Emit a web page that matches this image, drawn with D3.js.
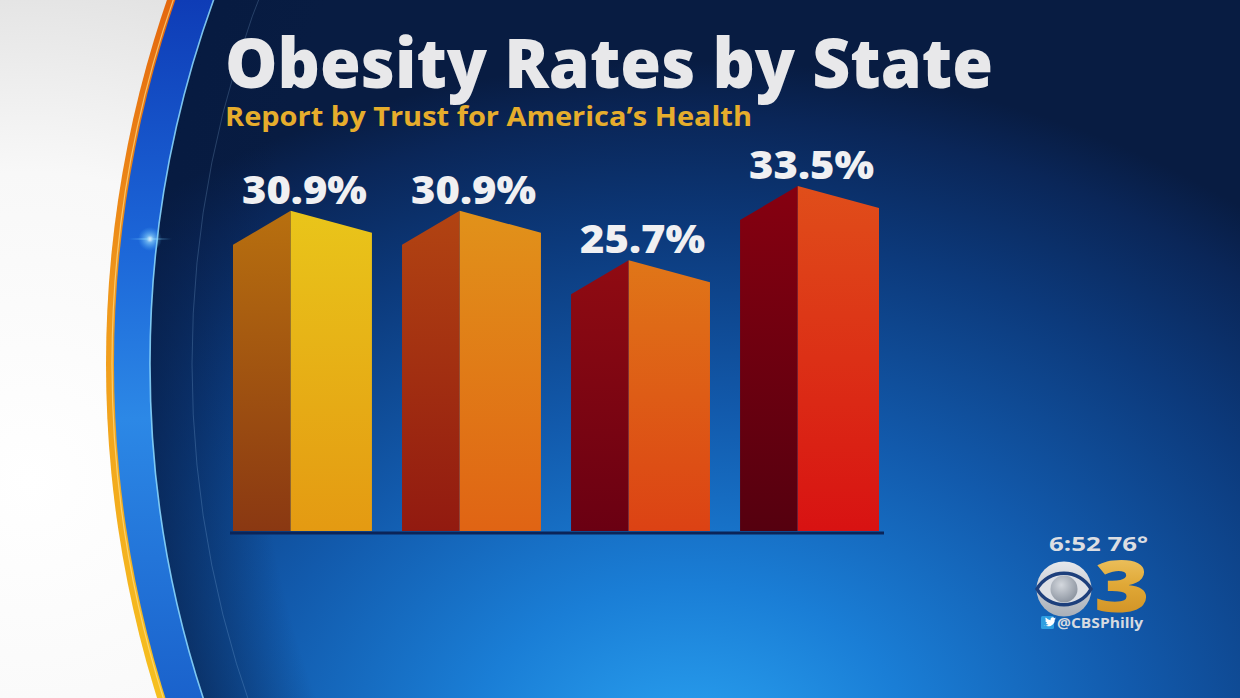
<!DOCTYPE html>
<html><head><meta charset="utf-8">
<script src="https://cdn.jsdelivr.net/npm/d3@7"></script>
<style>html,body{margin:0;padding:0;overflow:hidden;background:#fff}svg{display:block}</style>
</head><body><svg id="c" width="1240" height="698"></svg>
<script>
// ---- data ----
const categories = ["Bar 1", "Bar 2", "Bar 3", "Bar 4"];
const values = [30.9, 30.9, 25.7, 33.5];
const valueLabels = ["30.9%", "30.9%", "25.7%", "33.5%"];
const titleText = "Obesity Rates by State";
const subtitleText = "Report by Trust for America’s Health";
const clockText = "6:52 76°";
const channelText = "3";
const handleText = "@CBSPhilly";

// ---- styles ----
const palette = [
  {sideTop: "#b8700f", sideBot: "#8a3812", frontTop: "#e9c51a", frontBot: "#e49a12"},
  {sideTop: "#b24412", sideBot: "#921a10", frontTop: "#e1921a", frontBot: "#e06414"},
  {sideTop: "#900b12", sideBot: "#6a0012", frontTop: "#e07618", frontBot: "#dc4214"},
  {sideTop: "#860010", sideBot: "#55000f", frontTop: "#e04e1a", frontBot: "#d81212"}
];
const FONT = "'Open Sans', 'DejaVu Sans', sans-serif";

const svg = d3.select("#c");
const W = 1240, H = 698;
const defs = svg.append("defs");

// background gradients
const bgL = defs.append("radialGradient").attr("id", "bgL").attr("gradientUnits", "userSpaceOnUse")
  .attr("cx", 30).attr("cy", 480).attr("r", 560);
bgL.append("stop").attr("offset", 0).attr("stop-color", "#ffffff");
bgL.append("stop").attr("offset", 0.55).attr("stop-color", "#f8f8f8");
bgL.append("stop").attr("offset", 1).attr("stop-color", "#dcdcdc");

const orG = defs.append("linearGradient").attr("id", "orG")
  .attr("gradientUnits", "userSpaceOnUse").attr("y1", 0).attr("y2", H).attr("x1", 0).attr("x2", 0);
orG.append("stop").attr("offset", 0).attr("stop-color", "#e4680e");
orG.append("stop").attr("offset", 0.45).attr("stop-color", "#f09a1c");
orG.append("stop").attr("offset", 1).attr("stop-color", "#f6c020");

const blG = defs.append("linearGradient").attr("id", "blG").attr("gradientUnits", "userSpaceOnUse")
  .attr("x1", 0).attr("y1", 0).attr("x2", 0).attr("y2", H);
blG.append("stop").attr("offset", 0).attr("stop-color", "#0e3cb6");
blG.append("stop").attr("offset", 0.35).attr("stop-color", "#1c66d8");
blG.append("stop").attr("offset", 0.6).attr("stop-color", "#2c88e6");
blG.append("stop").attr("offset", 1).attr("stop-color", "#1a62cc");

const inG = defs.append("radialGradient").attr("id", "inG").attr("gradientUnits", "userSpaceOnUse")
  .attr("cx", 0).attr("cy", 0).attr("r", 1)
  .attr("gradientTransform", "translate(690,760) scale(900,700)");
inG.append("stop").attr("offset", 0).attr("stop-color", "#2ba4f2");
inG.append("stop").attr("offset", 0.25).attr("stop-color", "#1a7ed6");
inG.append("stop").attr("offset", 0.5).attr("stop-color", "#125aac");
inG.append("stop").attr("offset", 0.75).attr("stop-color", "#0c3a7c");
inG.append("stop").attr("offset", 0.92).attr("stop-color", "#0a2658");
inG.append("stop").attr("offset", 1).attr("stop-color", "#081c42");

const flare = defs.append("radialGradient").attr("id", "flare");
flare.append("stop").attr("offset", 0).attr("stop-color", "#ffffff").attr("stop-opacity", 1);
flare.append("stop").attr("offset", 0.3).attr("stop-color", "#9fe4ff").attr("stop-opacity", 0.6);
flare.append("stop").attr("offset", 1).attr("stop-color", "#4fb8ff").attr("stop-opacity", 0);

const edgeShade = defs.append("radialGradient").attr("id", "edgeShade").attr("gradientUnits", "userSpaceOnUse")
  .attr("cx", 1224).attr("cy", 364).attr("r", 1074);
edgeShade.append("stop").attr("offset", 0.9).attr("stop-color", "#061a40").attr("stop-opacity", 0);
edgeShade.append("stop").attr("offset", 1).attr("stop-color", "#061a40").attr("stop-opacity", 0.55);

// ---- background ----
svg.append("rect").attr("width", W).attr("height", H).attr("fill", "url(#bgL)");
const CX = 1224, CY = 364, R = 1118;
svg.append("circle").attr("cx", CX).attr("cy", CY).attr("r", R).attr("fill", "url(#orG)");
svg.append("circle").attr("cx", CX).attr("cy", CY).attr("r", R - 6).attr("fill", "none")
  .attr("stroke", "#ffe08a").attr("stroke-width", 1.2).attr("opacity", 0.7);
svg.append("circle").attr("cx", CX).attr("cy", CY).attr("r", R - 8).attr("fill", "url(#blG)");
svg.append("circle").attr("cx", CX).attr("cy", CY).attr("r", R - 44).attr("fill", "url(#inG)");
svg.append("circle").attr("cx", CX).attr("cy", CY).attr("r", R - 44).attr("fill", "url(#edgeShade)");
svg.append("circle").attr("cx", CX).attr("cy", CY).attr("r", R - 44).attr("fill", "none")
  .attr("stroke", "#8fdcff").attr("stroke-width", 1.6).attr("opacity", 0.85);
svg.append("circle").attr("cx", CX).attr("cy", CY).attr("r", R - 86).attr("fill", "none")
  .attr("stroke", "#9cc8f0").attr("stroke-width", 1).attr("opacity", 0.22);
// lens flare
svg.append("ellipse").attr("cx", 150).attr("cy", 239).attr("rx", 12).attr("ry", 12).attr("fill", "url(#flare)");
svg.append("ellipse").attr("cx", 150).attr("cy", 239).attr("rx", 24).attr("ry", 1.3).attr("fill", "url(#flare)").attr("opacity", 0.7);

// ---- title ----
svg.append("text").attr("x", 225).attr("y", 88).text(titleText)
  .attr("font-family", FONT).attr("font-weight", 800).attr("font-size", 69)
  .attr("fill", "#e8e8ea").attr("textLength", 768).attr("lengthAdjust", "spacingAndGlyphs");
svg.append("text").attr("x", 225).attr("y", 126).text(subtitleText)
  .attr("font-family", FONT).attr("font-weight", 700).attr("font-size", 26)
  .attr("fill", "#e6ad2c").attr("textLength", 527).attr("lengthAdjust", "spacingAndGlyphs");

// ---- chart ----
const x = d3.scaleBand().domain(categories).range([233, 879]).paddingInner(0.178).paddingOuter(0);
const y = d3.scaleLinear().domain([-2.7, 33.5]).range([531, 186]);
const ridgeFrac = 0.415, leftDrop = 34, rightDrop = 22;
const base = 531;

const rows = categories.map((c, i) => ({c, v: values[i], label: valueLabels[i], i}));

rows.forEach(d => {
  const p = palette[d.i];
  const gs = defs.append("linearGradient").attr("id", "side" + d.i).attr("gradientUnits", "userSpaceOnUse")
    .attr("x1", 0).attr("x2", 0).attr("y1", y(d.v)).attr("y2", base);
  gs.append("stop").attr("offset", 0).attr("stop-color", p.sideTop);
  gs.append("stop").attr("offset", 1).attr("stop-color", p.sideBot);
  const gf = defs.append("linearGradient").attr("id", "front" + d.i).attr("gradientUnits", "userSpaceOnUse")
    .attr("x1", 0).attr("x2", 0).attr("y1", y(d.v)).attr("y2", base);
  gf.append("stop").attr("offset", 0).attr("stop-color", p.frontTop);
  gf.append("stop").attr("offset", 1).attr("stop-color", p.frontBot);
});

const bars = svg.append("g").selectAll("g").data(rows).join("g");
bars.append("path").attr("fill", d => `url(#side${d.i})`)
  .attr("d", d => {
    const x0 = x(d.c), xr = x0 + x.bandwidth() * ridgeFrac, t = y(d.v);
    return `M${x0},${base}L${x0},${t + leftDrop}L${xr},${t}L${xr},${base}Z`;
  });
bars.append("path").attr("fill", d => `url(#front${d.i})`)
  .attr("d", d => {
    const x0 = x(d.c), xr = x0 + x.bandwidth() * ridgeFrac, x1 = x0 + x.bandwidth(), t = y(d.v);
    return `M${xr},${t}L${x1},${t + rightDrop}L${x1},${base}L${xr},${base}Z`;
  });
bars.append("text").text(d => d.label)
  .attr("x", d => x(d.c) + x.bandwidth() / 2 + 2).attr("y", d => y(d.v) - 7)
  .attr("text-anchor", "middle").attr("font-family", FONT).attr("font-weight", 800)
  .attr("font-size", 38).attr("fill", "#f0f0f2")
  .attr("textLength", 125).attr("lengthAdjust", "spacingAndGlyphs");

svg.append("line").attr("x1", 230).attr("x2", 884).attr("y1", base + 2).attr("y2", base + 2)
  .attr("stroke", "#0b2458").attr("stroke-width", 3);

// ---- logo ----
const silver = defs.append("linearGradient").attr("id", "silver").attr("x1", 0).attr("y1", 0).attr("x2", 0).attr("y2", 1);
silver.append("stop").attr("offset", 0).attr("stop-color", "#e6e8ec");
silver.append("stop").attr("offset", 1).attr("stop-color", "#a9afb8");
const pupil = defs.append("radialGradient").attr("id", "pupil").attr("cx", 0.4).attr("cy", 0.35).attr("r", 0.7);
pupil.append("stop").attr("offset", 0).attr("stop-color", "#d4d8de");
pupil.append("stop").attr("offset", 1).attr("stop-color", "#8a929e");
const gold = defs.append("linearGradient").attr("id", "gold").attr("x1", 0).attr("y1", 0).attr("x2", 0).attr("y2", 1);
gold.append("stop").attr("offset", 0).attr("stop-color", "#f4d27a");
gold.append("stop").attr("offset", 0.5).attr("stop-color", "#e0a836");
gold.append("stop").attr("offset", 1).attr("stop-color", "#c8861c");

svg.append("text").attr("x", 1049).attr("y", 551).text(clockText)
  .attr("font-family", FONT).attr("font-weight", 700).attr("font-size", 20)
  .attr("fill", "#dcdee2").attr("textLength", 99).attr("lengthAdjust", "spacingAndGlyphs");
const ex = 1064, ey = 589;
svg.append("circle").attr("cx", ex).attr("cy", ey).attr("r", 27.5).attr("fill", "url(#silver)");
svg.append("path").attr("d", `M${ex - 27},${ey} A31,31 0 0 1 ${ex + 27},${ey} A31,31 0 0 1 ${ex - 27},${ey} Z`)
  .attr("fill", "#dde0e6").attr("stroke", "#1d3f7c").attr("stroke-width", 3.5);
svg.append("circle").attr("cx", ex).attr("cy", ey).attr("r", 13.5).attr("fill", "url(#pupil)");
svg.append("text").attr("x", 1094).attr("y", 612).text(channelText)
  .attr("font-family", FONT).attr("font-weight", 800).attr("font-size", 70)
  .attr("fill", "url(#gold)").attr("textLength", 56).attr("lengthAdjust", "spacingAndGlyphs");
svg.append("rect").attr("x", 1041).attr("y", 616).attr("width", 13).attr("height", 13).attr("rx", 1.5).attr("fill", "#2e9fe2");
svg.append("path").attr("d", "M1043.5,625.5 q3,1 5,-1 q-2,0 -2.5,-1.5 q1,0 1.2,-0.3 q-2,-0.6 -2,-2.4 q0.6,0.3 1.1,0.3 q-1.7,-1.3 -0.6,-3 q2,2.4 4.8,2.6 q-0.3,-2.6 2.2,-2.9 q1,0 1.6,0.7 q0.9,-0.2 1.4,-0.5 q-0.3,0.9 -1,1.3 q0.7,-0.1 1.2,-0.3 q-0.5,0.7 -1.1,1.1 q0.1,4.5 -4.2,6.3 q-3,1 -6.1,-0.4 z")
  .attr("fill", "#ffffff");
svg.append("text").attr("x", 1057).attr("y", 628).text(handleText)
  .attr("font-family", FONT).attr("font-weight", 700).attr("font-size", 14.5)
  .attr("fill", "#d6dae0").attr("textLength", 86).attr("lengthAdjust", "spacingAndGlyphs");
</script></body></html>
